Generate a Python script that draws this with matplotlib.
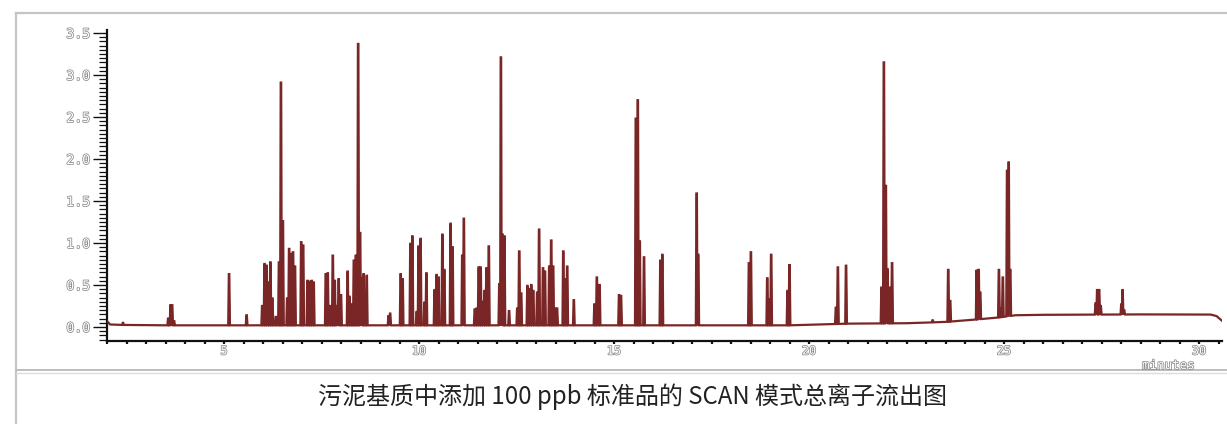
import numpy as np
import matplotlib
matplotlib.use("Agg")
import matplotlib.pyplot as plt
import matplotlib.patheffects as pe
from matplotlib.lines import Line2D
from matplotlib.ticker import MultipleLocator, FormatStrFormatter

# ---------------- data ----------------
peak_times = [2.41, 3.57, 3.63, 3.67, 3.72, 5.13, 5.58,
              5.98, 6.04, 6.09, 6.14, 6.19, 6.24, 6.33, 6.41, 6.46, 6.51,
              6.62, 6.67, 6.72, 6.77, 6.82, 6.98, 7.03, 7.14, 7.19, 7.25, 7.30,
              7.61, 7.66, 7.73, 7.79, 7.84, 7.90, 7.94, 8.00,
              8.17, 8.22, 8.28, 8.33, 8.38, 8.44, 8.49, 8.53, 8.58, 8.66,
              9.22, 9.26, 9.53, 9.58, 9.78, 9.83, 9.94, 9.99, 10.04,
              10.14, 10.19, 10.40, 10.45, 10.50, 10.60, 10.65, 10.81, 10.86,
              11.11, 11.15, 11.43, 11.48, 11.53, 11.58, 11.63, 11.68, 11.73, 11.79,
              12.06, 12.10, 12.14, 12.19, 12.31, 12.52, 12.57, 12.62,
              12.78, 12.83, 12.88, 12.93, 13.03, 13.08, 13.18, 13.23,
              13.34, 13.39, 13.44, 13.49, 13.54, 13.70, 13.75, 13.80, 13.97,
              14.50, 14.56, 14.63, 15.13, 15.18, 15.56, 15.61, 15.66, 15.77,
              16.19, 16.24, 17.12, 17.16, 18.46, 18.51, 18.93, 18.98, 19.03,
              19.45, 19.50, 20.69, 20.74, 20.95,
              21.86, 21.92, 21.97, 22.01, 22.06, 22.13, 23.17, 23.57, 23.62,
              24.30, 24.35, 24.39, 24.87, 24.92, 24.97, 25.08, 25.12, 25.16,
              27.35, 27.39, 27.44, 27.48, 28.01, 28.04, 28.08]
peak_heights = [0.05, 0.10, 0.26, 0.26, 0.07, 0.63, 0.14,
                0.25, 0.75, 0.73, 0.53, 0.77, 0.34, 0.12, 0.77, 2.91, 1.26,
                0.34, 0.93, 0.87, 0.89, 0.72, 1.01, 0.97, 0.55, 0.54, 0.55, 0.53,
                0.63, 0.64, 0.25, 0.85, 0.55, 0.25, 0.57, 0.38,
                0.66, 0.36, 0.27, 0.79, 0.85, 3.37, 1.12, 0.58, 0.63, 0.61,
                0.13, 0.16, 0.63, 0.57, 0.99, 1.08, 0.18, 0.96, 1.05,
                0.29, 0.64, 0.44, 0.62, 0.59, 1.10, 0.68, 1.23, 0.95,
                0.85, 1.29, 0.21, 0.22, 0.71, 0.71, 0.30, 0.43, 0.70, 0.96,
                0.51, 3.21, 1.10, 1.08, 0.19, 0.22, 0.90, 0.40,
                0.49, 0.45, 0.50, 0.43, 0.41, 1.16, 0.70, 0.66,
                0.72, 1.03, 0.72, 0.22, 0.22, 0.90, 0.57, 0.72, 0.32,
                0.27, 0.59, 0.50, 0.38, 0.37, 2.48, 2.70, 1.02, 0.83,
                0.79, 0.86, 1.59, 0.86, 0.76, 0.89, 0.58, 0.33, 0.86,
                0.43, 0.75, 0.23, 0.71, 0.73,
                0.47, 3.15, 1.68, 0.69, 0.47, 0.76, 0.08, 0.68, 0.31,
                0.68, 0.68, 0.41, 0.68, 0.22, 0.59, 1.86, 1.96, 0.68,
                0.28, 0.44, 0.44, 0.25, 0.27, 0.44, 0.20]

baseline_t = [2.0, 2.08, 2.35, 3.5, 4.0, 19.5, 21.0, 22.5, 23.5, 24.3,
              24.8, 25.3, 26.0, 28.5, 30.3, 30.45, 30.6]
baseline_v = [0.07, 0.03, 0.025, 0.02, 0.02, 0.02, 0.04, 0.045, 0.06, 0.09,
              0.11, 0.14, 0.145, 0.15, 0.148, 0.13, 0.07]

y_ticks = [0.0, 0.5, 1.0, 1.5, 2.0, 2.5, 3.0, 3.5]
x_ticks = [5, 10, 15, 20, 25, 30]
title = "污泥基质中添加 100 ppb 标准品的 SCAN 模式总离子流出图"

# ---------------- build the trace ----------------
pt = np.array(peak_times)
ph = np.array(peak_heights)
order = np.argsort(pt)
pt, ph = pt[order], ph[order]

def base(t):
    return np.interp(t, baseline_t, baseline_v)

ts, ys = [], []
for i, (t, h) in enumerate(zip(pt, ph)):
    left_gap = pt[i] - pt[i - 1] if i > 0 else 1.0
    right_gap = pt[i + 1] - pt[i] if i < len(pt) - 1 else 1.0
    hl = min(0.022, left_gap / 2)
    hr = min(0.022, right_gap / 2)
    ts += [t - hl, t - 0.006, t + 0.006, t + hr]
    ys += [base(t - hl), h, h, base(t + hr)]
for bt, bv in zip(baseline_t, baseline_v):
    ts.append(bt)
    ys.append(bv)
ts = np.array(ts)
ys = np.array(ys)
o = np.argsort(ts, kind="stable")
ts, ys = ts[o], ys[o]

# ---------------- figure ----------------
W, H = 1227, 424
fig = plt.figure(figsize=(W / 100, H / 100), dpi=100)
fig.patch.set_facecolor("white")

ax_left, ax_right = 107 / W, 1222 / W
ax_top, ax_bot = 1 - 30 / H, 1 - 341 / H
ax = fig.add_axes([ax_left, ax_bot, ax_right - ax_left, ax_top - ax_bot])

col_line = "#7a2626"
col_fill = "#6e1c1c"
ax.fill_between(ts, np.interp(ts, baseline_t, baseline_v), ys,
                color=col_fill, lw=0, zorder=2)
ax.plot(ts, ys, color=col_line, lw=1.6, zorder=3, solid_joinstyle="miter")

ax.set_xlim(2.0, 2.0 + (1222 - 107) / 39.0)
ax.set_ylim(-(341 - 327) / 84.0, (327 - 30) / 84.0)

for s in ["top", "right"]:
    ax.spines[s].set_visible(False)
for s in ["left", "bottom"]:
    ax.spines[s].set_linewidth(1.6)
    ax.spines[s].set_color("#111111")

ax.yaxis.set_minor_locator(MultipleLocator(0.05))
ax.set_yticks(y_ticks)
ax.yaxis.set_major_formatter(FormatStrFormatter("%.1f"))
ax.xaxis.set_minor_locator(MultipleLocator(0.5))
ax.set_xticks(x_ticks)
ax.set_xticklabels([str(v) for v in x_ticks])

ax.tick_params(axis="y", which="major", length=10, width=1.0, color="#111",
               direction="out", pad=2)
ax.tick_params(axis="y", which="minor", length=6, width=0.9, color="#111",
               direction="out")
ax.tick_params(axis="x", which="both", length=2.5, width=1.6, color="#111",
               direction="out", pad=0)

stroke = [pe.withStroke(linewidth=1.1, foreground="#8a8a8a")]
for lab in ax.get_yticklabels():
    lab.set_fontfamily("DejaVu Sans Mono")
    lab.set_fontsize(9.5)
    lab.set_color("white")
    lab.set_path_effects(stroke)
for lab in ax.get_xticklabels():
    lab.set_fontfamily("DejaVu Sans Mono")
    lab.set_fontsize(8.5)
    lab.set_color("white")
    lab.set_path_effects(stroke)

fig.text(1142 / W, 1 - 359 / H, "minutes", fontsize=9, family="DejaVu Sans Mono",
         color="white", path_effects=stroke, ha="left", va="top")

# frame lines
fig.add_artist(Line2D([16 / W, 1.0], [1 - 13 / H, 1 - 13 / H], color="#c4c4c4", lw=1.6))
fig.add_artist(Line2D([16 / W, 16 / W], [0, 1 - 13 / H], color="#c4c4c4", lw=1.6))
fig.add_artist(Line2D([16 / W, 1.0], [1 - 370 / H, 1 - 370 / H], color="#bdbdbd", lw=1.4))
fig.add_artist(Line2D([16 / W, 1.0], [1 - 373 / H, 1 - 373 / H], color="#dcdcdc", lw=1.0))

fig.text(633 / W, 1 - 397 / H, title, fontsize=17.3,
         family=["Noto Sans CJK SC", "DejaVu Sans"], color="#222222",
         ha="center", va="center")

fig.savefig("out.png", dpi=100)
